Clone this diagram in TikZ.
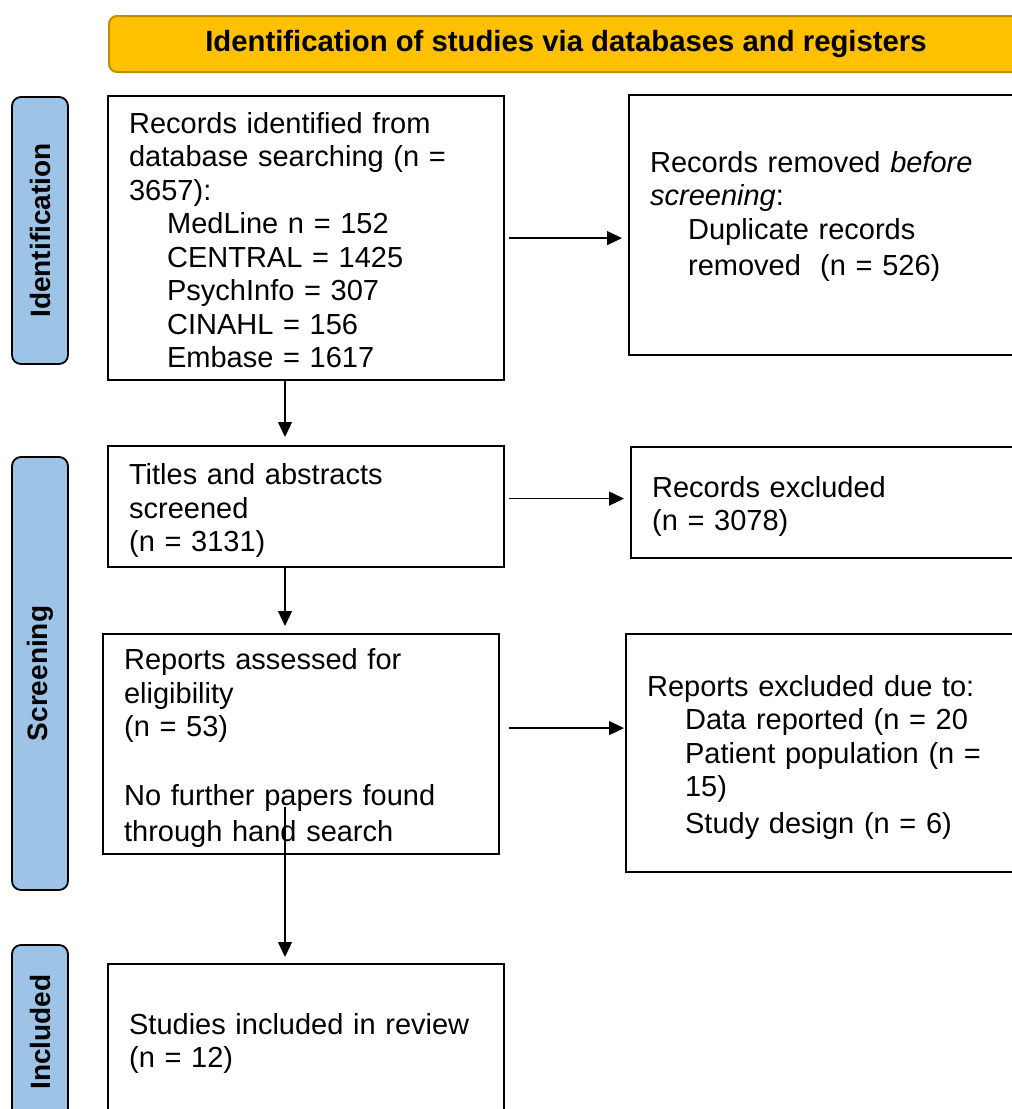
\documentclass[tikz,border=0pt]{standalone}
\usepackage{fontspec}
\setmainfont{Liberation Sans}
\usepackage{tikz}
\usetikzlibrary{arrows.meta,calc}

\definecolor{bannergold}{HTML}{FFC000}
\definecolor{bannerline}{HTML}{BF9000}
\definecolor{phaseblue}{HTML}{9DC3E6}
\newcommand{\ts}{\rule[-4.25pt]{0pt}{33.5pt}}
\newcommand{\lowgap}{\rule[-32pt]{0pt}{1pt}}
\newcommand{\ind}{\hspace*{38pt}}

\begin{document}
\begin{tikzpicture}[x=1pt,y=-1pt]
\tikzstyle{box} = [draw, line width=2.2pt, rectangle, anchor=north west, inner xsep=21pt, inner ysep=0pt, align=left, font=\fontsize{29}{33.5}\selectfont]
\tikzstyle{phase} = [draw, line width=1.8pt, fill=phaseblue, rounded corners=9pt, rotate=90, minimum height=56pt, inner sep=0pt, font=\fontsize{28}{30}\selectfont\bfseries]
\tikzstyle{arr} = [-{Triangle[length=15pt,width=14pt]}, line width=1.3pt]
\useasboundingbox (0,0) rectangle (1012,1109);
\clip (0,0) rectangle (1012,1109);
% banner
\node[draw=bannerline, line width=2pt, fill=bannergold, rounded corners=8pt, anchor=north west, minimum width=914pt, minimum height=56pt, font=\fontsize{29.3}{31}\selectfont\bfseries] (banner) at (108,15) {\raisebox{-3pt}{Identification of studies via databases and registers}};
% phases
\node[phase, minimum width=267pt] (idphase) at (40,230.5) {Identification};
\node[phase, minimum width=433pt] (scphase) at (40,673.5) {Screening};
\node[phase, minimum width=174pt] (inphase) at (40,1032) {Included};
% boxes
\node[box, minimum width=396pt, minimum height=284pt, text width=354pt] (found) at (107,95) {\ts Records identified from\\database searching (n =\\3657):\\
\ind MedLine n = 152\\\ind CENTRAL = 1425\\\ind PsychInfo = 307\\\ind CINAHL = 156\\\ind Embase = 1617\ts};
\node[box, minimum width=420pt, minimum height=260pt, text width=378pt] (dupes) at (628,94) {\ts Records removed \textit{before}\\\textit{screening}:\\\ind Duplicate records\\\ind removed\ \ (n = 526)\ts\lowgap};
\node[box, minimum width=396pt, minimum height=121pt, text width=354pt] (screened) at (107,445) {\ts Titles and abstracts\\screened\\(n = 3131)\ts};
\node[box, minimum width=420pt, minimum height=111pt, text width=378pt] (excl) at (630,446) {\ts Records excluded\\(n = 3078)\ts};
\node[box, minimum width=396pt, minimum height=220pt, text width=354pt] (assessed) at (102,633) {\ts Reports assessed for\\eligibility\\(n = 53)\\[35pt]No further papers found\\through hand search\ts};
\node[box, minimum width=420pt, minimum height=238pt, text width=378pt] (rexcl) at (625,633) {\ts Reports excluded due to:\\\ind Data reported (n = 20\\\ind Patient population (n =\\\ind 15)\\\ind Study design (n = 6)\ts};
\node[box, minimum width=396pt, minimum height=151pt, text width=354pt] (incl) at (107,963) {\ts Studies included in review\\(n = 12)\ts};
% arrows
\coordinate (spine) at (285,0);
\draw[arr, shorten <=4pt, shorten >=6pt] (found.east) -- (found.east -| dupes.west);
\draw[arr, shorten <=4pt, shorten >=6pt] ([yshift=8pt]screened.east) -- ([yshift=8pt]screened.east -| excl.west);
\draw[arr, shorten <=9pt, shorten >=1pt] ([yshift=16pt]assessed.east) -- ([yshift=16pt]assessed.east -| rexcl.west);
\draw[arr, shorten >=8pt] (found.south -| spine) -- (screened.north -| spine);
\draw[arr, shorten >=7pt] (screened.south -| spine) -- (assessed.north -| spine);
\draw[arr, shorten >=6pt] ($(assessed.south -| spine)+(0,-48)$) -- (incl.north -| spine);
\end{tikzpicture}
\end{document}
